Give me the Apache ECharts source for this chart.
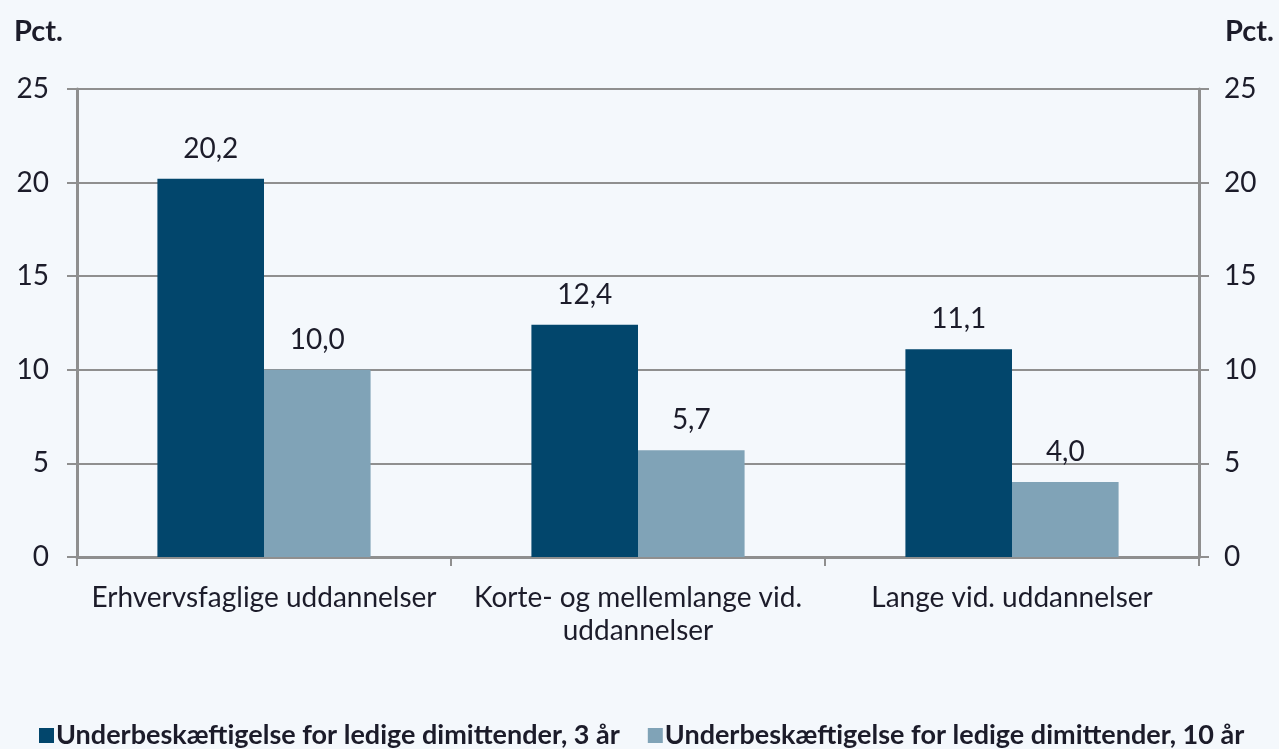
<!DOCTYPE html>
<html>
<head>
<meta charset="utf-8">
<script src="https://cdn.jsdelivr.net/npm/echarts@6/dist/echarts.min.js"></script>
<style>
  html, body { margin: 0; padding: 0; background: #f4f8fc; }
  #chart { width: 1279px; height: 749px; }
</style>
</head>
<body>
<div id="chart"></div>
<script>
// 分类 + 两组数值（单位：Pct.）
const categories = ['Erhvervsfaglige uddannelser', 'Korte- og mellemlange vid.\nuddannelser', 'Lange vid. uddannelser'];
const seriesNames = ['Underbeskæftigelse for ledige dimittender, 3 år', 'Underbeskæftigelse for ledige dimittender, 10 år'];
const val3aar = [20.2, 12.4, 11.1];
const val10aar = [10.0, 5.7, 4.0];
const yTicks = [0, 5, 10, 15, 20, 25];

const FONT = 'Lato, "Open Sans", sans-serif';
const TXT = '#1c1c2a';
const GRID = '#8f8f8f';
const fmt = v => v.toFixed(1).replace('.', ',');

function yAxis(pos) {
  return {
    type: 'value', position: pos, min: yTicks[0], max: yTicks[yTicks.length - 1], interval: 5,
    axisLine: { show: true, lineStyle: { color: GRID, width: 3 } },
    axisTick: { show: true, length: 10, lineStyle: { color: GRID, width: 2 } },
    axisLabel: { color: TXT, fontFamily: FONT, fontSize: 28, margin: pos === 'left' ? 28 : 25 },
    splitLine: { show: pos === 'left', lineStyle: { color: GRID, width: 2 } }
  };
}

const c = echarts.init(document.getElementById('chart'));
c.setOption({
  backgroundColor: '#f4f8fc',
  animation: false,
  title: [
    { text: 'Pct.', left: 9, top: 12, textStyle: { fontFamily: FONT, fontWeight: 'bold', fontSize: 29, color: TXT } },
    { text: 'Pct.', right: 0, top: 12, textStyle: { fontFamily: FONT, fontWeight: 'bold', fontSize: 29, color: TXT } }
  ],
  legend: {
    data: seriesNames, left: 34, top: 717, icon: 'rect', itemWidth: 15, itemHeight: 15, itemGap: 28,
    textStyle: { fontFamily: FONT, fontWeight: 'bold', fontSize: 27, color: TXT, padding: [0, 0, 0, -3] }
  },
  grid: { left: 77, right: 80, top: 89, bottom: 192, containLabel: false },
  xAxis: {
    type: 'category', data: categories,
    axisLine: { lineStyle: { color: GRID, width: 3 } },
    axisTick: { show: true, length: 9, lineStyle: { color: GRID, width: 2 } },
    axisLabel: { interval: 0, color: TXT, fontFamily: FONT, fontSize: 28, margin: 24, lineHeight: 33 }
  },
  yAxis: [yAxis('left'), yAxis('right')],
  series: [
    { name: seriesNames[0], type: 'bar', data: val3aar, barGap: '0%', barCategoryGap: '43%',
      itemStyle: { color: '#02466c' },
      label: { show: true, position: 'top', distance: 16, formatter: p => fmt(p.value), color: TXT, fontFamily: FONT, fontSize: 28 } },
    { name: seriesNames[1], type: 'bar', data: val10aar, barGap: '0%', barCategoryGap: '43%',
      itemStyle: { color: '#80a3b7' },
      label: { show: true, position: 'top', distance: 16, formatter: p => fmt(p.value), color: TXT, fontFamily: FONT, fontSize: 28 } }
  ]
});
</script>
</body>
</html>
